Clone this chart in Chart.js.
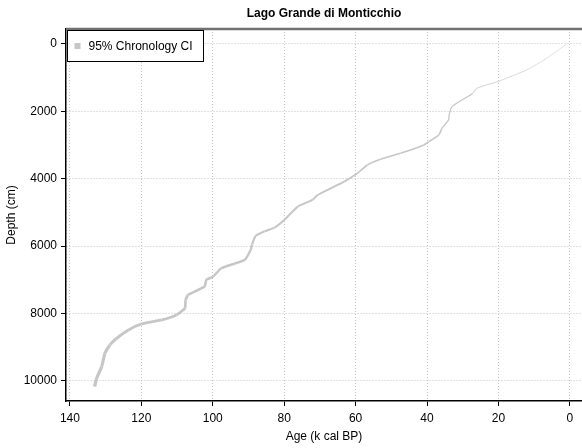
<!DOCTYPE html>
<html>
<head>
<meta charset="utf-8">
<script src="https://cdn.jsdelivr.net/npm/chart.js@4.4.1/dist/chart.umd.min.js"></script>
<style>
  html, body { margin: 0; padding: 0; background: #fff; }
  #wrap { width: 582px; height: 448px; overflow: hidden; }
</style>
</head>
<body>
<div id="wrap"><canvas id="ageDepth" width="582" height="448"></canvas></div>
<script>
// Age-depth curve (age in k cal BP, depth in cm), top of core to base
const ages = [0.9, 6.5, 12.1, 19.5, 26.0, 27.4, 30.2, 33.0, 33.7, 34.0, 35.8, 36.7, 39.5, 40.9,
  47.4, 53.0, 56.7, 59.5, 63.2, 70.6, 72.1, 76.2, 80.0, 82.7, 85.5, 88.0, 89.0, 89.4, 91.1,
  97.6, 99.9, 101.8, 102.3, 106.9, 107.6, 107.8, 110.2, 114.3, 119.9, 123.6, 126.9, 128.8,
  130.2, 131.1, 132.5, 133.1];
const depths = [0, 425, 771, 1088, 1315, 1483, 1661, 1860, 2056, 2255, 2500, 2700, 2899, 2997,
  3243, 3421, 3590, 3837, 4085, 4480, 4628, 4827, 5222, 5450, 5560, 5700, 5950, 6112, 6409,
  6655, 6904, 7002, 7200, 7447, 7600, 7842, 8041, 8189, 8308, 8486, 8732, 8931,
  9177, 9574, 9919, 10168];

const ageTicks = [0, 20, 40, 60, 80, 100, 120, 140];
const depthTicks = [0, 2000, 4000, 6000, 8000, 10000];

const chartTitle = 'Lago Grande di Monticchio';
const seriesLabel = '95% Chronology CI';
const bandColor = '#c6c6c6';
const FONT = "'Liberation Sans', Arial, sans-serif";

Chart.defaults.font.family = FONT;
Chart.defaults.font.size = 12;
Chart.defaults.color = '#000';

// top frame line, centred title and boxed legend
const decorations = {
    id: 'decorations',
    afterDraw(chart) {
        const { ctx, chartArea: a } = chart;
        ctx.save();

        ctx.strokeStyle = '#707070';
        ctx.lineWidth = 2.5;
        ctx.beginPath();
        ctx.moveTo(a.left, a.top);
        ctx.lineTo(a.right, a.top);
        ctx.stroke();

        ctx.fillStyle = '#000';
        ctx.font = 'bold 12px ' + FONT;
        ctx.textAlign = 'center';
        ctx.textBaseline = 'middle';
        ctx.fillText(chartTitle, (a.left + a.right) / 2, 14);

        const bx = a.left + 1.5, by = a.top + 1.5, bw = 136, bh = 31;
        ctx.fillStyle = '#fff';
        ctx.fillRect(bx, by, bw, bh);
        ctx.strokeStyle = '#000';
        ctx.lineWidth = 1;
        ctx.strokeRect(bx, by, bw, bh);
        ctx.fillStyle = bandColor;
        ctx.fillRect(bx + 7, by + bh / 2 - 3, 6, 6);
        ctx.fillStyle = '#000';
        ctx.font = '12px ' + FONT;
        ctx.textAlign = 'left';
        ctx.fillText(seriesLabel, bx + 21, by + bh / 2 + 0.5);
        ctx.restore();
    }
};

const axisStyle = {
    grid: {
        color: '#c4c4c4',
        tickColor: '#000',
        tickLength: 5,
        tickBorderDash: [],
        drawOnChartArea: true
    },
    border: { display: true, color: '#000', width: 1.5, dash: [1, 2] }
};

new Chart(document.getElementById('ageDepth'), {
    type: 'scatter',
    data: {
        datasets: [{
            label: seriesLabel,
            data: ages.map((a, i) => ({ x: a, y: depths[i] })),
            showLine: true,
            pointRadius: 0,
            borderColor: bandColor,
            tension: 0.15,
            segment: {
                borderWidth: c => 0.8 + 2.6 * c.p0.parsed.y / 10200,
                borderColor: c => c.p0.parsed.y < 1400 ? '#d9d9d9' : bandColor
            }
        }]
    },
    plugins: [decorations],
    options: {
        responsive: false,
        animation: false,
        layout: { padding: { top: 29, right: 0, left: 0, bottom: 0 } },
        plugins: {
            legend: { display: false },
            title: { display: false },
            tooltip: { enabled: false }
        },
        scales: {
            x: {
                ...axisStyle,
                type: 'linear',
                reverse: true,
                min: -3.4,
                max: 141.1,
                afterBuildTicks: s => { s.ticks = ageTicks.map(v => ({ value: v })); },
                afterFit: s => { s.height = 47; },
                ticks: { padding: 5, maxRotation: 0, callback: v => String(v) },
                title: { display: true, text: 'Age (k cal BP)', padding: { top: 2, bottom: 4 } }
            },
            y: {
                ...axisStyle,
                type: 'linear',
                reverse: true,
                min: -445,
                max: 10595,
                afterBuildTicks: s => { s.ticks = depthTicks.map(v => ({ value: v })); },
                afterFit: s => { s.width = 66; },
                ticks: { padding: 4, callback: v => String(v) },
                title: { display: true, text: 'Depth (cm)', padding: 4 }
            }
        }
    }
});
</script>
</body>
</html>
